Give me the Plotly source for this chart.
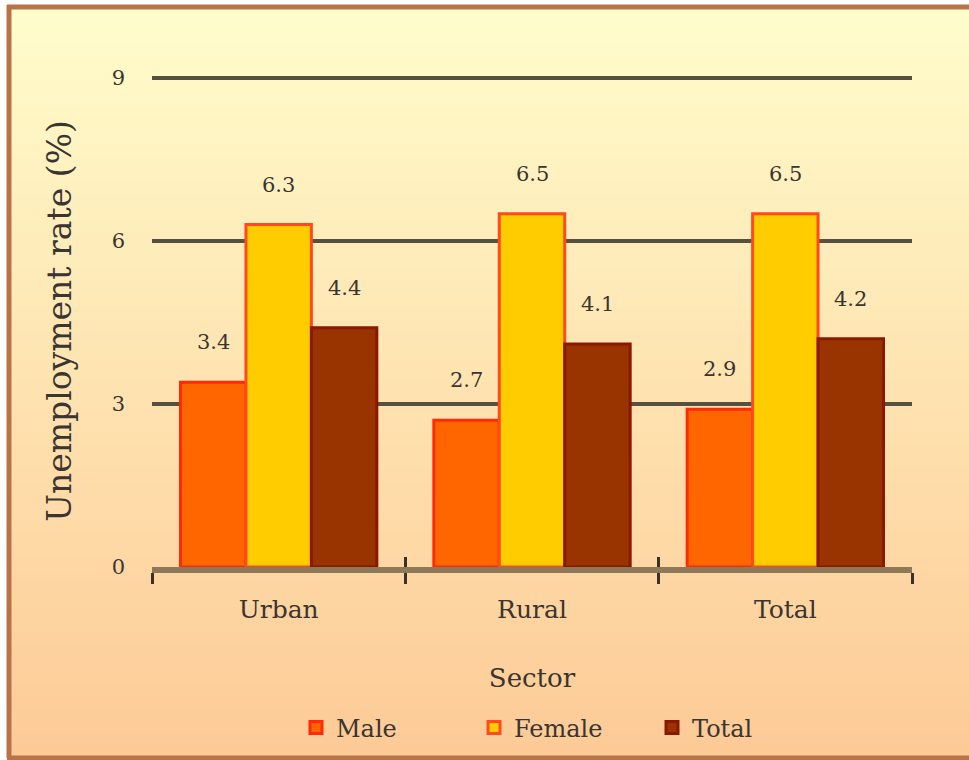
import plotly.graph_objects as go

sectors = ['Urban', 'Rural', 'Total']
male = [3.4, 2.7, 2.9]
female = [6.3, 6.5, 6.5]
total = [4.4, 4.1, 4.2]
y_ticks = [0, 3, 6, 9]

W, H = 969, 760
ML, MR, MT, MB = 152, 57, 75, 193
PW, PH = W - ML - MR, H - MT - MB


def px_x(p):
    return (p - ML) / PW


def px_y(p):
    return (H - MB - p) / PH


def mix(c1, c2, t):
    return 'rgb({},{},{})'.format(*[round(a + (b - a) * t) for a, b in zip(c1, c2)])


FONT = 'DejaVu Serif'
TXT = '#3a3530'
x = list(range(len(sectors)))

series = [
    ('Male', male, '#ff6600', '#ff2a0a'),
    ('Female', female, '#ffcc00', '#ff4a1e'),
    ('Total', total, '#993300', '#8a1800'),
]

fig = go.Figure()
for name, vals, fill, line in series:
    fig.add_trace(go.Bar(
        name=name, x=x, y=vals,
        marker=dict(color=fill, line=dict(color=line, width=3)),
    ))

# value labels above bars
bw = (1 - 0.225) / 3
annotations = []
for i, (name, vals, _, _) in enumerate(series):
    for j, v in enumerate(vals):
        annotations.append(dict(
            x=j + (i - 1) * bw, y=v, xref='x', yref='y',
            text='{:.1f}'.format(v), showarrow=False, yshift=40,
            font=dict(family=FONT, size=21, color=TXT),
        ))

# background gradient bands + frame (top, left, bottom edges only)
top_c, bot_c = (255, 253, 204), (253, 202, 150)
y_top, y_bot = 5, 758
n = 60
shapes = []
for k in range(n):
    a = y_top + (y_bot - y_top) * k / n
    b = y_top + (y_bot - y_top) * (k + 1) / n + 1
    shapes.append(dict(
        type='rect', xref='paper', yref='paper', layer='below',
        x0=px_x(7), x1=px_x(W + 5), y0=px_y(b), y1=px_y(a),
        fillcolor=mix(top_c, bot_c, (k + 0.5) / n), line=dict(width=0),
    ))
frame = dict(type='line', xref='paper', yref='paper', layer='below',
             line=dict(color='#b87446', width=5))
shapes.append(dict(frame, x0=px_x(7), x1=px_x(W + 5), y0=px_y(y_top + 2), y1=px_y(y_top + 2)))
shapes.append(dict(frame, x0=px_x(7), x1=px_x(W + 5), y0=px_y(y_bot), y1=px_y(y_bot)))
shapes.append(dict(frame, x0=px_x(9), x1=px_x(9), y0=px_y(y_bot), y1=px_y(y_top)))

fig.update_layout(
    width=W, height=H,
    margin=dict(l=ML, r=MR, t=MT, b=MB, autoexpand=False),
    paper_bgcolor='white', plot_bgcolor='rgba(0,0,0,0)',
    barmode='group', bargap=0.225, bargroupgap=0,
    font=dict(family=FONT, color=TXT),
    annotations=annotations, shapes=shapes,
    xaxis=dict(
        range=[-0.5, 2.5], tickvals=x, ticktext=sectors,
        tickfont=dict(size=25, color=TXT), ticks='', showgrid=False,
        zeroline=False, showline=True, linecolor='#8d7858', linewidth=6,
        ticklabelstandoff=15, automargin=False,
        minor=dict(tickvals=[-0.5, 0.5, 1.5, 2.5], ticks='outside',
                   ticklen=11, tickwidth=3, tickcolor='#3a3228'),
        title=dict(text='Sector', font=dict(size=26, color=TXT), standoff=48),
    ),
    xaxis2=dict(
        overlaying='x', range=[-0.5, 2.5], tickvals=[-0.5, 0.5, 1.5, 2.5],
        showticklabels=False, ticks='inside', ticklen=10, tickwidth=3,
        tickcolor='#3a3228', showgrid=False, zeroline=False, showline=False,
        side='bottom', anchor='y',
    ),
    yaxis=dict(
        range=[0, 9.05], tickvals=y_ticks, showgrid=True, gridcolor='#555040',
        gridwidth=4, zeroline=False, showline=False, automargin=False,
        tickfont=dict(size=21, color=TXT), ticklabelstandoff=26,
        title=dict(text='Unemployment rate (%)', font=dict(size=33, color=TXT),
                   standoff=30),
    ),
    legend=dict(
        orientation='h', x=px_x(296), y=px_y(728), xanchor='left', yanchor='middle',
        entrywidth=133, font=dict(size=24, color=TXT), bgcolor='rgba(0,0,0,0)',
        itemwidth=30,
    ),
    showlegend=True,
)

# empty trace so the secondary tick axis is drawn
fig.add_trace(go.Scatter(x=[], y=[], xaxis='x2', showlegend=False))

fig.write_html('out.html', config={'displayModeBar': False},
               post_script="document.body.style.margin='0';"
                           "document.body.style.overflow='hidden';")
